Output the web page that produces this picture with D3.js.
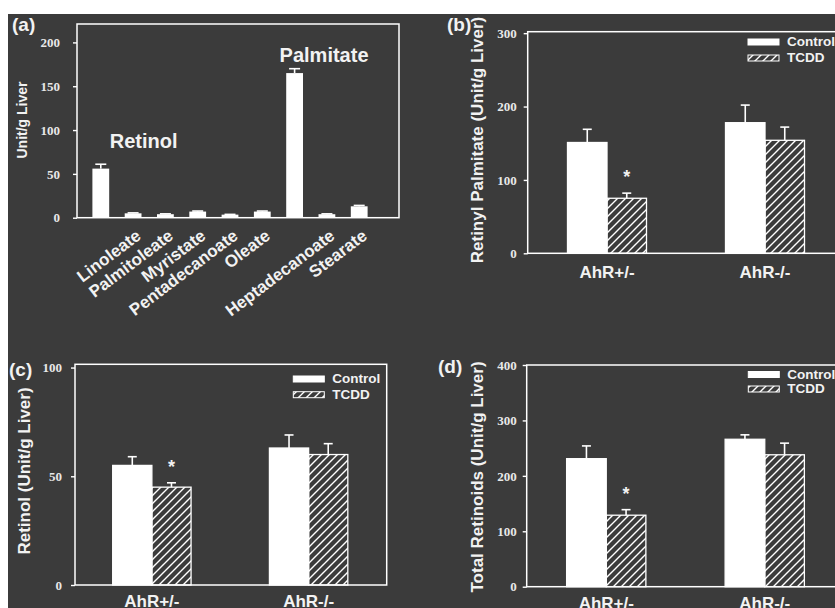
<!DOCTYPE html>
<html>
<head>
<meta charset="utf-8">
<script src="https://cdn.jsdelivr.net/npm/d3@7"></script>
<style>
  body { margin: 0; background: #fff; }
  svg { display: block; }
  text { font-family: "Liberation Sans", Arial, sans-serif; fill: #f2f2f2; }
</style>
</head>
<body>
<svg id="fig" width="835" height="608"></svg>
<script>
// (a) retinyl esters in liver
var esterNames = ["Retinol", "Linoleate", "Palmitoleate", "Myristate", "Pentadecanoate",
                  "Oleate", "Palmitate", "Heptadecanoate", "Stearate"];
var esterValues = [56, 5, 4, 7, 3.5, 7, 165, 4, 13];
var esterErrors = [5, 0.5, 0.4, 0.6, 0.3, 0.6, 5, 0.4, 1];
var esterTickLabels = ["", "Linoleate", "Palmitoleate", "Myristate", "Pentadecanoate",
                       "Oleate", "", "Heptadecanoate", "Stearate"];
var esterTicks = [0, 50, 100, 150, 200];

// (b)-(d) AhR genotype x treatment
var groups = ["AhR+/-", "AhR-/-"];
var treatments = ["Control", "TCDD"];
var starred = [true, false];

var palmControl = [151, 178], palmControlErr = [18, 24];
var palmTcdd = [75, 154], palmTcddErr = [7, 18];
var palmTicks = [0, 100, 200, 300];

var retControl = [55, 63], retControlErr = [4, 6];
var retTcdd = [45, 60], retTcddErr = [2, 5];
var retTicks = [0, 50, 100];

var totControl = [231, 266], totControlErr = [23, 8];
var totTcdd = [129, 238], totTcddErr = [10, 21];
var totTicks = [0, 100, 200, 300, 400];

var svg = d3.select("#fig");

// scanned page: white margin, dark figure area
svg.append("rect").attr("width", 835).attr("height", 608).attr("fill", "#fff");
svg.append("rect").attr("x", 8).attr("y", 14).attr("width", 827).attr("height", 594).attr("fill", "#3b3b3b");

var defs = svg.append("defs");
defs.append("pattern")
    .attr("id", "hatch")
    .attr("patternUnits", "userSpaceOnUse")
    .attr("width", 8).attr("height", 8)
  .append("path")
    .attr("d", "M-2,2 L2,-2 M0,8 L8,0 M6,10 L10,6")
    .attr("stroke", "#fff")
    .attr("stroke-width", 1.4);

function styleAxis(g, size) {
  g.select(".domain").remove();
  g.selectAll("line").attr("stroke", "#fff").attr("stroke-width", 1.4);
  g.selectAll("text")
      .style("font-family", "'Liberation Serif', 'Times New Roman', serif")
      .style("font-weight", "bold")
      .style("font-size", size + "px")
      .style("fill", "#e8e8e8");
}

function errorBar(g, cx, y0, y1, cap) {
  g.append("line").attr("x1", cx).attr("x2", cx).attr("y1", y0).attr("y2", y1)
      .attr("stroke", "#fff").attr("stroke-width", 1.6);
  g.append("line").attr("x1", cx - cap / 2).attr("x2", cx + cap / 2).attr("y1", y1).attr("y2", y1)
      .attr("stroke", "#fff").attr("stroke-width", 1.6);
}

function panelLabel(txt, x, y) {
  svg.append("text").attr("x", x).attr("y", y)
      .style("font-size", "19px").style("font-weight", "bold")
      .text(txt);
}

function yTitle(txt, x, y, size) {
  svg.append("text")
      .attr("transform", "translate(" + x + "," + y + ") rotate(-90)")
      .attr("text-anchor", "middle")
      .style("font-size", size + "px").style("font-weight", "bold")
      .text(txt);
}

// ---------- (a) ----------
(function() {
  var box = {x: 77, y: 24, w: 322, h: 193.7};
  var y = d3.scaleLinear().domain([0, 221]).range([box.y + box.h, box.y]);
  var x = d3.scaleBand().domain(esterNames).range([84, 376]).paddingInner(0.48).paddingOuter(0.26);
  var g = svg.append("g");

  g.append("g")
      .attr("transform", "translate(" + box.x + ",0)")
      .call(d3.axisLeft(y).tickValues(esterTicks).tickSize(4).tickPadding(13))
      .call(styleAxis, 13);

  esterNames.forEach(function(n, i) {
    var bx = x(n), bw = x.bandwidth();
    g.append("rect").attr("x", bx).attr("y", y(esterValues[i]))
        .attr("width", bw).attr("height", y(0) - y(esterValues[i]))
        .attr("fill", "#fff");
    errorBar(g, bx + bw / 2, y(esterValues[i]), y(esterValues[i] + esterErrors[i]), 11);
    if (esterTickLabels[i]) {
      g.append("text")
          .attr("transform", "translate(" + (bx + bw / 2 + 9) + "," + 238 + ") rotate(-37)")
          .attr("text-anchor", "end")
          .style("font-size", "17px").style("font-weight", "bold")
          .text(esterTickLabels[i]);
    }
  });

  // in-plot names for the two big bars
  [["Retinol", 9, -16], ["Palmitate", -15, -7]].forEach(function(a) {
    var i = esterNames.indexOf(a[0]);
    g.append("text")
        .attr("x", x(a[0]) + x.bandwidth() / 2 + a[1])
        .attr("y", y(esterValues[i] + esterErrors[i]) + a[2])
        .style("font-size", "20px").style("font-weight", "bold")
        .text(a[0]);
  });

  g.append("rect").attr("x", box.x).attr("y", box.y).attr("width", box.w).attr("height", box.h)
      .attr("fill", "none").attr("stroke", "#fff").attr("stroke-width", 1.5);

  yTitle("Unit/g Liver", 27, 120, 14);
  panelLabel("(a)", 12, 31);
})();

// ---------- (b)-(d) ----------
function grouped(p) {
  var box = p.box;
  var y = d3.scaleLinear().domain([0, p.ymax]).range([box.y + box.h, box.y]);
  var x0 = d3.scaleBand().domain(groups).range(p.xr).paddingInner(0.5).paddingOuter(0.25);
  var x1 = d3.scaleBand().domain(treatments).range([0, x0.bandwidth()]);
  var g = svg.append("g");

  g.append("g")
      .attr("transform", "translate(" + box.x + ",0)")
      .call(d3.axisLeft(y).tickValues(p.ticks).tickSize(4).tickPadding(p.pad))
      .call(styleAxis, 13);

  var gx = g.append("g")
      .attr("transform", "translate(0," + (box.y + box.h) + ")")
      .call(d3.axisBottom(x0).tickSize(0).tickPadding(p.xpad));
  gx.select(".domain").remove();
  gx.selectAll("text")
      .style("font-family", "'Liberation Sans', Arial, sans-serif")
      .style("font-size", "17px").style("font-weight", "bold").style("fill", "#f2f2f2");

  groups.forEach(function(grp, i) {
    var rows = [
      {t: "Control", v: p.control[i], e: p.controlErr[i]},
      {t: "TCDD", v: p.tcdd[i], e: p.tcddErr[i]}
    ];
    rows.forEach(function(d) {
      var bx = x0(grp) + x1(d.t), bw = x1.bandwidth();
      g.append("rect").attr("x", bx).attr("y", y(d.v))
          .attr("width", bw).attr("height", y(0) - y(d.v))
          .attr("fill", d.t === "Control" ? "#fff" : "url(#hatch)")
          .attr("stroke", "#fff").attr("stroke-width", 1.3);
      errorBar(g, bx + bw / 2, y(d.v), y(d.v + d.e), 9);
      if (d.t === "TCDD" && starred[i]) {
        g.append("text").attr("x", bx + bw / 2).attr("y", y(d.v + d.e) - 10)
            .attr("text-anchor", "middle")
            .style("font-size", "18px").style("font-weight", "bold")
            .text("*");
      }
    });
  });

  g.append("rect").attr("x", box.x).attr("y", box.y).attr("width", box.w).attr("height", box.h)
      .attr("fill", "none").attr("stroke", "#fff").attr("stroke-width", 1.5);

  // legend
  var lx = box.x + p.leg[0];
  treatments.forEach(function(t, k) {
    var ly = box.y + p.leg[1] + k * p.leg[2];
    g.append("rect").attr("x", lx).attr("y", ly).attr("width", 31).attr("height", 6)
        .attr("fill", t === "Control" ? "#fff" : "url(#hatch)")
        .attr("stroke", "#fff").attr("stroke-width", 1);
    g.append("text").attr("x", lx + 39).attr("y", ly + 7)
        .style("font-size", "13.5px").style("font-weight", "bold")
        .text(t);
  });

  yTitle(p.title, p.tx, p.ty, 17);
  panelLabel(p.label, p.lx, p.ly);
}

grouped({
  label: "(b)", lx: 447, ly: 31,
  title: "Retinyl Palmitate (Unit/g Liver)", tx: 483, ty: 140,
  box: {x: 527.7, y: 31.7, w: 311.7, h: 221.6}, ymax: 302, ticks: palmTicks, pad: 7,
  xr: [528, 844], xpad: 13, leg: [220.3, 7.3, 16],
  control: palmControl, controlErr: palmControlErr, tcdd: palmTcdd, tcddErr: palmTcddErr
});

grouped({
  label: "(c)", lx: 9, ly: 376,
  title: "Retinol (Unit/g Liver)", tx: 30, ty: 471,
  box: {x: 75, y: 364.3, w: 311.7, h: 220.7}, ymax: 101.5, ticks: retTicks, pad: 9,
  xr: [73.5, 387], xpad: 10, leg: [218.3, 11.7, 15.7],
  control: retControl, controlErr: retControlErr, tcdd: retTcdd, tcddErr: retTcddErr
});

grouped({
  label: "(d)", lx: 438, ly: 373,
  title: "Total Retinoids (Unit/g Liver)", tx: 483, ty: 477,
  box: {x: 526.7, y: 365, w: 311.7, h: 221.7}, ymax: 400, ticks: totTicks, pad: 6,
  xr: [527, 844], xpad: 10, leg: [221.6, 6.5, 14.5],
  control: totControl, controlErr: totControlErr, tcdd: totTcdd, tcddErr: totTcddErr
});
</script>
</body>
</html>
